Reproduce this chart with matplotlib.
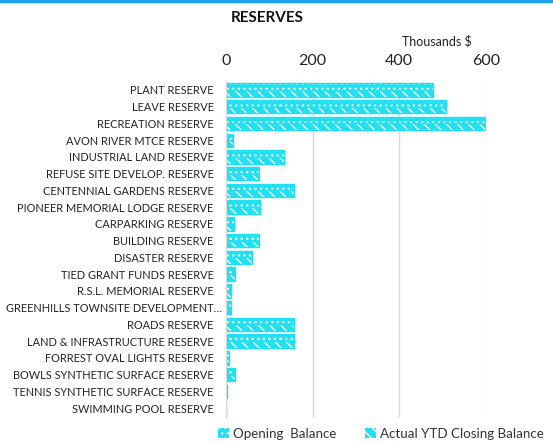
import matplotlib
matplotlib.use("Agg")
import matplotlib.pyplot as plt
import matplotlib.patches as mpatches
import matplotlib.transforms as mtransforms
from matplotlib.lines import Line2D
import numpy as np

categories = [
    "PLANT RESERVE", "LEAVE RESERVE", "RECREATION RESERVE", "AVON RIVER MTCE RESERVE",
    "INDUSTRIAL LAND RESERVE", "REFUSE SITE DEVELOP. RESERVE", "CENTENNIAL GARDENS RESERVE",
    "PIONEER MEMORIAL LODGE RESERVE", "CARPARKING RESERVE", "BUILDING RESERVE",
    "DISASTER RESERVE", "TIED GRANT FUNDS RESERVE", "R.S.L. MEMORIAL RESERVE",
    "GREENHILLS TOWNSITE DEVELOPMENT\u2026", "ROADS RESERVE", "LAND & INFRASTRUCTURE RESERVE",
    "FORREST OVAL LIGHTS RESERVE", "BOWLS SYNTHETIC SURFACE RESERVE",
    "TENNIS SYNTHETIC SURFACE RESERVE", "SWIMMING POOL RESERVE",
]
opening = [478, 508, 601, 15, 134, 76, 157, 79, 18, 75, 60, 20, 12, 11, 157, 158, 6, 20, 3, 0]
closing = [478, 508, 601, 15, 134, 76, 157, 79, 18, 75, 60, 20, 12, 11, 157, 158, 6, 20, 3, 0]
xticks = [0, 200, 400, 600]

CYAN = "#22DFF2"
FONT = ["Lato", "DejaVu Sans"]
plt.rcParams["font.family"] = FONT
plt.rcParams["hatch.linewidth"] = 1.0

fig = plt.figure(figsize=(5.53, 4.44), dpi=100)
ax = fig.add_axes([226 / 553, 1 - 416.5 / 444, 260 / 553, (416.5 - 81.6) / 444])

y = np.arange(len(categories))
h = 0.4
# Opening balance: dotted pattern
ax.barh(y - h / 2, opening, height=h, color=CYAN, edgecolor="white", hatch="...", linewidth=0, zorder=3)
ax.barh(y - h / 2, opening, height=h, facecolor="none", edgecolor=CYAN, linewidth=1.0, zorder=4)
# Closing balance: diagonal pattern
ax.barh(y + h / 2, closing, height=h, color=CYAN, edgecolor="white", hatch="\\\\\\", linewidth=0, zorder=3)
ax.barh(y + h / 2, closing, height=h, facecolor="none", edgecolor=CYAN, linewidth=1.0, zorder=4)

ax.set_xlim(0, 600)
ax.set_ylim(len(categories) - 0.5, -0.5)
ax.set_yticks(y)
ax.set_yticklabels(categories, fontsize=7.9, color="#222222")
ax.set_xticks(xticks)
ax.xaxis.tick_top()
ax.tick_params(axis="x", labelsize=11.5, length=0, pad=10, colors="#222222")
ax.tick_params(axis="y", length=0, pad=9)
ax.grid(axis="x", color="#D9D9D9", linewidth=1, zorder=0)
for s in ["top", "right", "bottom"]:
    ax.spines[s].set_visible(False)
ax.spines["left"].set_color("#D9D9D9")
ax.spines["left"].set_zorder(5)

# the truncated label sits slightly further right, as in the reference
for lbl in ax.get_yticklabels():
    if lbl.get_text().endswith("\u2026"):
        lbl.set_transform(lbl.get_transform() + mtransforms.ScaledTranslation(8 / 100, 0, fig.dpi_scale_trans))

fig.text(267 / 553, 1 - 18 / 444, "RESERVES", ha="center", va="center", fontsize=11, fontweight="bold", color="#111111")
fig.text(472 / 553, 1 - 41 / 444, "Thousands $", ha="right", va="center", fontsize=9, color="#222222")

# top border line
fig.add_artist(Line2D([0, 1], [1 - 1 / 444, 1 - 1 / 444], transform=fig.transFigure, color="#1AA3E8", linewidth=2.5))

h1 = mpatches.Patch(facecolor=CYAN, edgecolor="white", hatch="...", linewidth=0)
h2 = mpatches.Patch(facecolor=CYAN, edgecolor="white", hatch="\\\\\\", linewidth=0)
leg = fig.legend([h1, h2], ["Opening  Balance", "Actual YTD Closing Balance"], loc="center",
                 bbox_to_anchor=(381 / 553, 1 - 434 / 444), ncol=2, frameon=False, fontsize=9.6,
                 handlelength=0.8, handleheight=0.8, handletextpad=0.3, columnspacing=2.2)
for t in leg.get_texts():
    t.set_color("#333333")

fig.savefig("out.png", dpi=100)
